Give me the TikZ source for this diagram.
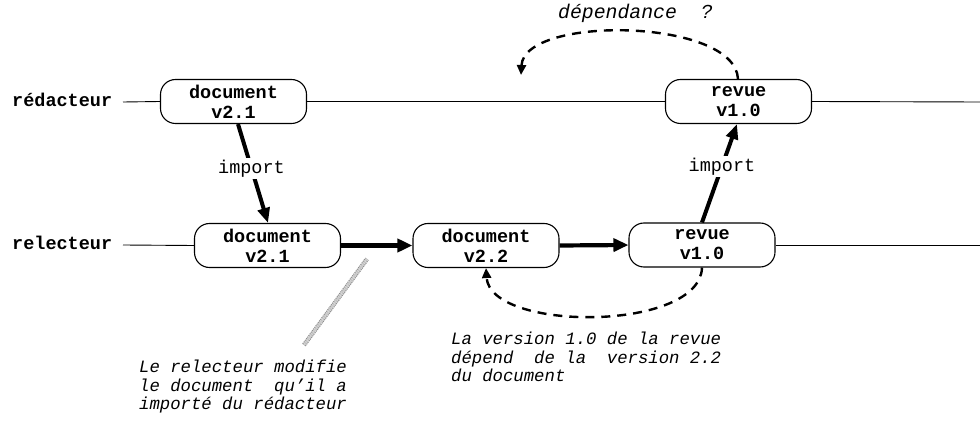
\documentclass[tikz,border=0pt]{standalone}
\usepackage{fontspec}
\setmainfont{Liberation Mono}
\usetikzlibrary{arrows.meta}

\tikzset{
  version/.style={draw, line width=1.1pt, rounded corners=15pt,
    minimum width=146pt, minimum height=44pt, inner sep=0pt, align=center,
    font=\fontsize{18.5}{20}\selectfont\bfseries},
  actor/.style={anchor=west, inner sep=0pt, font=\fontsize{18.5}{20}\selectfont\bfseries},
  timeline/.style={line width=0.9pt},
  flow/.style={line width=4.2pt, -{Triangle[length=15pt,width=13pt]}},
  imp/.style={line width=4pt, -{Triangle[length=15pt,width=12pt]}},
  implabel/.style={fill=white, inner sep=2pt, font=\fontsize{18.5}{20}\selectfont},
  depend/.style={line width=2.4pt, dash pattern=on 9pt off 7pt,
    -{Triangle[length=10pt,width=9pt]}},
  note/.style={inner sep=0pt, align=left, font=\fontsize{17.3}{18.5}\selectfont\itshape},
  pointer/.style={draw=gray!90, double=gray!40, line width=1pt, double distance=2.4pt,
    dash pattern=on 1.2pt off 0.8pt}
}

\begin{document}
\begin{tikzpicture}[x=1pt,y=-1pt]
  \useasboundingbox (0,0) rectangle (980,422);

  % actors
  \node[actor] (red) at (12,100) {rédacteur};
  \node[actor] (rel) at (12,243) {relecteur};
  \coordinate (redstart) at (123,102);
  \coordinate (redend) at (980,102);
  \coordinate (relstart) at (123,245);
  \coordinate (relend) at (980,245);

  % versions
  \node[version] (d1) at (233.5,101.5) {document\\v2.1};
  \node[version] (r1) at (738.5,101.5) {revue\\v1.0};
  \node[version] (d2) at (267.5,245.5) {document\\v2.1};
  \node[version] (d3) at (486,245.5) {document\\v2.2};
  \node[version] (r2) at (702,245) {revue\\v1.0};

  % timelines
  \draw[timeline] (redstart) -- (d1.west);
  \draw[timeline] (d1.east) -- (r1.west);
  \draw[timeline] (r1.east) -- (redend);
  \draw[timeline] (relstart) -- (d2.west);
  \draw[timeline] (r2.east) -- (relend);

  % successive versions
  \draw[flow] (d2.east) -- (d3.west);
  \draw[flow] (d3.east) -- (r2.west);

  % imports between actors
  \draw[imp] (d1.south -| 238,0) -- node[implabel, pos=0.45] {import} (d2.north -| 268,0);
  \draw[imp] (r2.north) -- node[implabel, pos=0.57] {import} (r1.south -| 737,0);

  % dependencies
  \coordinate (qtip) at (521,75);
  \draw[depend] (r1.north -| 738,0) .. controls (735,18) and (524,15) .. (qtip);
  \node[note, anchor=west, font=\fontsize{19.8}{21}\selectfont\itshape] (q) at (558,13)
    {dépendance~ ?};

  \draw[depend] (r2.south) .. controls (700,332) and (490,332) .. (d3.south);
  \node[note, anchor=north west] (n2) at (451,332)
    {La version 1.0 de la revue\\dépend~ de la~ version 2.2\\du document};

  % comment on the modification
  \node[note, anchor=north west] (n1) at (139,360)
    {Le relecteur modifie\\le document~ qu'il a\\importé du rédacteur};
  \coordinate (ptrtop) at (367,259);
  \draw[pointer] (304,345) -- (ptrtop);
\end{tikzpicture}
\end{document}
